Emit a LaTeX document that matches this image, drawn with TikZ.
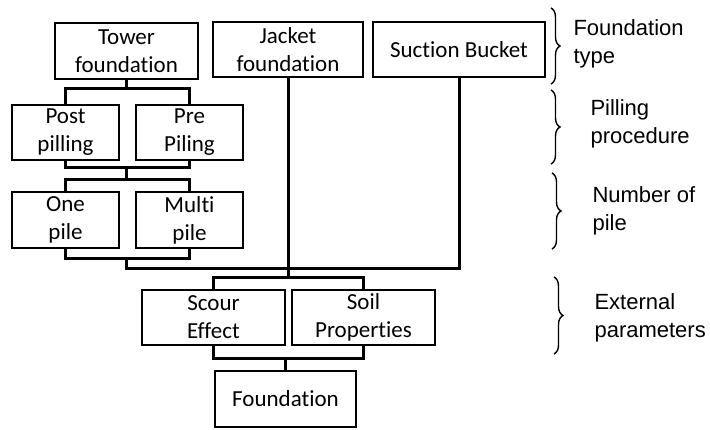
\documentclass[tikz,border=0pt]{standalone}
\usepackage{fontspec}
\setmainfont{Carlito}[Ligatures=NoCommon]
\newfontfamily\labelfont{Liberation Sans}
\usetikzlibrary{decorations.pathreplacing}

\begin{document}
\begin{tikzpicture}[x=1pt,y=-1pt,
  box/.style={draw,line width=1.3pt,align=center,inner sep=0pt,
    font=\fontsize{23}{28}\selectfont},
  link/.style={line width=3pt},
  brc/.style={decorate,decoration={brace,amplitude=9pt},line width=1.4pt},
  side/.style={anchor=west,align=left,font={\labelfont\fontsize{22}{28}\selectfont}}]
  \useasboundingbox (0,0) rectangle (710,430);
  % ── Boxes ──────────────────────────────────────────
  \node[box,minimum width=143pt,minimum height=56pt] (tower)   at (126.5,51)  {Tower\\foundation};
  \node[box,minimum width=150pt,minimum height=55pt] (jacket)  at (288,49.5)  {Jacket\\foundation};
  \node[box,minimum width=172pt,minimum height=55pt] (suction) at (459,49.5)  {Suction Bucket};
  \node[box,minimum width=107pt,minimum height=55pt] (post)    at (65.5,132.5) {Post\\pilling};
  \node[box,minimum width=107pt,minimum height=55pt] (pre)     at (189.5,132.5) {Pre\\Piling};
  \node[box,minimum width=107pt,minimum height=56pt] (one)     at (65.5,220)  {One\\pile};
  \node[box,minimum width=107pt,minimum height=56pt] (multi)   at (189.5,220) {Multi\\pile};
  \node[box,minimum width=143pt,minimum height=55pt] (scour)   at (213.5,317.5) {Scour\\Effect};
  \node[box,minimum width=143pt,minimum height=55pt] (soil)    at (363.5,317.5) {Soil\\Properties};
  \node[box,minimum width=141pt,minimum height=56pt] (found)   at (285.5,399) {Foundation};
  % ── Links (bus lines between levels) ───────────────
  % tower → post / pre
  \draw[link] (tower.south) -- ++(0,10);
  \draw[link] (post.north) -- ++(0,-16) -| (pre.north);
  % post / pre → one / multi
  \draw[link] (post.south) -- ++(0,7) coordinate (pp) -| (pre.south);
  \draw[link] (pp -| tower.south) -- ++(0,13);
  \draw[link] (one.north) -- ++(0,-12) -| (multi.north);
  % one / multi → main line, joined by suction bucket
  \draw[link] (one.south) -- ++(0,10) coordinate (op) -| (multi.south);
  \draw[link] (op -| tower.south) -- ++(0,10) -| (suction.south);
  % jacket → scour / soil
  \draw[link] (scour.north) -- ++(0,-12) coordinate (sp) -| (soil.north);
  \draw[link] (jacket.south) -- (jacket.south |- sp);
  % scour / soil → foundation
  \draw[link] (scour.south) -- ++(0,13) coordinate (sf) -| (soil.south);
  \draw[link] (sf -| found.north) -- (found.north);
  % ── Braces and level names ─────────────────────────
  \draw[brc] (551,8)   -- (551,84)  coordinate[midway] (b1);
  \draw[brc] (551,90)  -- (551,164) coordinate[midway] (b2);
  \draw[brc] (552,173) -- (552,249) coordinate[midway] (b3);
  \draw[brc] (554,277) -- (554,354) coordinate[midway] (b4);
  \node[side] (ftype)  at (570,44)  {Foundation\\type};
  \node[side] (pproc)  at (587,124) {Pilling\\procedure};
  \node[side] (npile)  at (589,211) {Number of\\pile};
  \node[side] (extpar) at (591,318) {External\\parameters};
\end{tikzpicture}
\end{document}
